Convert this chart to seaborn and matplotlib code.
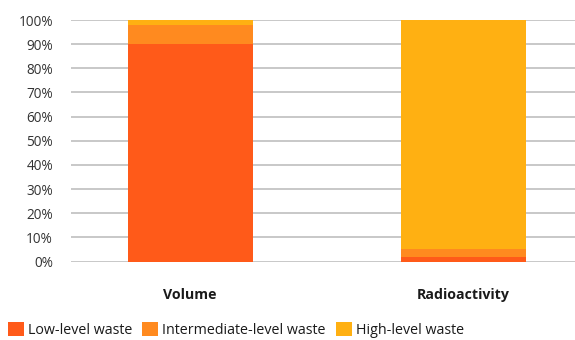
import matplotlib
matplotlib.use("Agg")
import matplotlib.pyplot as plt
from matplotlib.patches import Patch
import seaborn as sns
import pandas as pd

# Share of radioactive waste by category (percent)
categories = ["Volume", "Radioactivity"]
low_level = [90, 2]
intermediate_level = [8, 3]
high_level = [2, 95]
series_names = ["Low-level waste", "Intermediate-level waste", "High-level waste"]
series_colors = ["#FF5A19", "#FF8A1F", "#FFB012"]
ytick_values = [0, 10, 20, 30, 40, 50, 60, 70, 80, 90, 100]

sns.set_theme(style="white")
plt.rcParams["font.family"] = ["Open Sans", "DejaVu Sans"]

df = pd.DataFrame({
    "category": categories,
    "low": low_level,
    "intermediate": intermediate_level,
    "high": high_level,
})
# cumulative tops for stacking by overlap
df["top_high"] = df["low"] + df["intermediate"] + df["high"]
df["top_inter"] = df["low"] + df["intermediate"]
df["top_low"] = df["low"]

fig = plt.figure(figsize=(5.75, 3.4), dpi=100)
ax = fig.add_axes([71 / 575, (340 - 261.5) / 340, 1 - 71 / 575, 241.5 / 340])

for col, color in zip(["top_high", "top_inter", "top_low"], series_colors[::-1]):
    sns.barplot(data=df, x="category", y=col, color=color, width=0.458,
                saturation=1, ax=ax, zorder=3, edgecolor="none", linewidth=0)

ax.set_xlim(-0.436, 1.41)
ax.set_ylim(0, 100)
ax.set_yticks(ytick_values)
ax.set_yticklabels([f"{v}%" for v in ytick_values], fontsize=9.8, color="#333333")
ax.yaxis.grid(True, color="#c8c8c8", linewidth=1.4, zorder=0)
ax.xaxis.grid(False)
ax.set_axisbelow(True)
for s in ax.spines.values():
    s.set_visible(False)
ax.tick_params(axis="y", length=0, pad=13)
ax.tick_params(axis="x", length=0, pad=19)
ax.set_xticks([0, 1])
ax.set_xticklabels(categories, fontsize=10.2, fontweight="bold", color="#1a1a1a")
ax.set_xlabel("")
ax.set_ylabel("")

handles = [Patch(facecolor=c, edgecolor="none") for c in series_colors]
fig.legend(handles, series_names, loc="center left", bbox_to_anchor=(8 / 575, 1 - 330 / 340),
           ncol=3, frameon=False, fontsize=10.3, handlelength=1.1, handleheight=1.15,
           handletextpad=0.3, columnspacing=0.7, borderaxespad=0, borderpad=0,
           labelcolor="#1a1a1a")

fig.savefig("out.png", dpi=100)
